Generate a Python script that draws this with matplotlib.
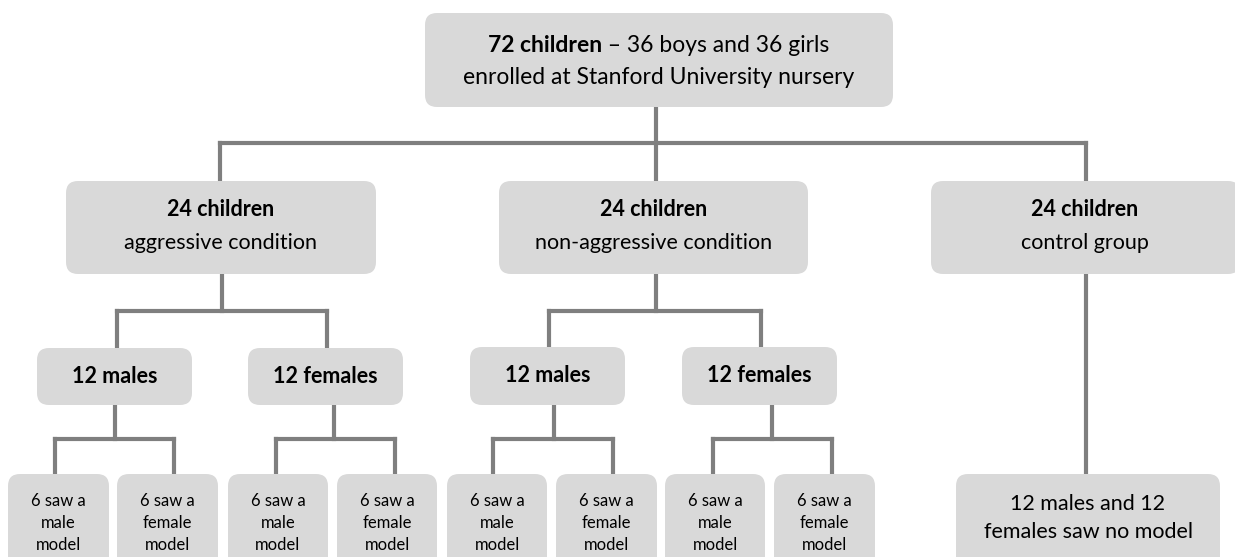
import matplotlib
matplotlib.use("Agg")
import matplotlib.pyplot as plt
from matplotlib.patches import FancyBboxPatch

plt.rcParams['font.family'] = ['Lato', 'DejaVu Sans']

# -----------------------------
# data (labels of the tree)
# -----------------------------
top_bold = "72 children"
top_rest = " \u2013 36 boys and 36 girls"
top_line2 = "enrolled at Stanford University nursery"

group_counts = ["24 children", "24 children", "24 children"]
group_names = ["aggressive condition", "non-aggressive condition", "control group"]

sex_labels = ["12 males", "12 females", "12 males", "12 females"]

leaf_labels = ["6 saw a\nmale\nmodel", "6 saw a\nfemale\nmodel"] * 4
control_leaf = "12 males and 12\nfemales saw no model"

# -----------------------------
# layout (pixels, y down)
# -----------------------------
W, H = 1235, 557
BOX = "#d9d9d9"
LINE = "#7f7f7f"
LW = 3.0

top_box = (425, 893, 13, 107)
group_boxes = [(66, 376, 181, 274), (499, 808, 181, 274), (931, 1240, 181, 274)]
sex_boxes = [(37, 192, 348, 405), (248, 403, 348, 405),
             (470, 625, 347, 405), (682, 837, 347, 405)]
leaf_x = [(8, 109), (117, 218), (228, 328), (337, 437),
          (447, 547), (556, 657), (665, 765), (774, 875)]
leaf_y = (474, 575)
control_box = (956, 1220, 474, 575)

# connectors: (stem x, from y, bar y, child xs, to y)
connectors = [
    (656, 107, 143, [220, 656, 1086], 181),
    (222, 274, 311, [117, 327], 348),
    (656, 274, 311, [549, 761], 347),
    (115, 405, 439, [55, 174], 474),
    (334, 405, 439, [276, 395], 474),
    (554, 405, 439, [493, 613], 473),
    (772, 405, 439, [713, 832], 473),
]

FS_TOP = 16.5
FS_MID = 15.5
FS_LEAF = 12.0

fig = plt.figure(figsize=(W / 100, H / 100), dpi=100)
ax = fig.add_axes([0, 0, 1, 1])
ax.set_xlim(0, W)
ax.set_ylim(H, 0)
ax.axis("off")


def box(b, r=12):
    x0, x1, y0, y1 = b
    p = FancyBboxPatch((x0, y0), x1 - x0, y1 - y0,
                       boxstyle=f"round,pad=0,rounding_size={r}",
                       fc=BOX, ec="none", zorder=2)
    ax.add_patch(p)


# lines first
for sx, y_from, y_bar, xs, y_to in connectors:
    ax.plot([sx, sx], [y_from, y_bar], color=LINE, lw=LW, zorder=1,
            solid_capstyle="projecting")
    ax.plot([min(xs), max(xs)], [y_bar, y_bar], color=LINE, lw=LW, zorder=1,
            solid_capstyle="projecting")
    for cx in xs:
        ax.plot([cx, cx], [y_bar, y_to], color=LINE, lw=LW, zorder=1,
                solid_capstyle="projecting")
ax.plot([1086, 1086], [274, 474], color=LINE, lw=LW, zorder=1)

# top box, first line mixes bold and regular
box(top_box)
cx = (top_box[0] + top_box[1]) / 2
fig.canvas.draw()
r = fig.canvas.get_renderer()
tb = ax.text(0, 45, top_bold, fontsize=FS_TOP, fontweight="bold", va="center", ha="left", zorder=3)
tr = ax.text(0, 45, top_rest, fontsize=FS_TOP, va="center", ha="left", zorder=3)
wb = tb.get_window_extent(renderer=r).width
wr = tr.get_window_extent(renderer=r).width
start = cx - (wb + wr) / 2
tb.set_x(start)
tr.set_x(start + wb)
ax.text(cx, 78, top_line2, fontsize=FS_TOP, va="center", ha="center", zorder=3)

# group boxes
for b, cnt, name in zip(group_boxes, group_counts, group_names):
    box(b)
    x = (b[0] + b[1]) / 2
    if b[1] > W:
        x = 1085
    ax.text(x, 210, cnt, fontsize=FS_MID, fontweight="bold", ha="center", va="center", zorder=3)
    ax.text(x, 243, name, fontsize=FS_MID, ha="center", va="center", zorder=3)

# sex boxes
for b, lab in zip(sex_boxes, sex_labels):
    box(b)
    ax.text((b[0] + b[1]) / 2, (b[2] + b[3]) / 2, lab, fontsize=FS_MID,
            fontweight="bold", ha="center", va="center", zorder=3)

# leaves
for (x0, x1), lab in zip(leaf_x, leaf_labels):
    box((x0, x1, leaf_y[0], leaf_y[1]))
    ax.text((x0 + x1) / 2, 523, lab, fontsize=FS_LEAF, ha="center", va="center",
            linespacing=1.45, zorder=3)

box(control_box)
ax.text((control_box[0] + control_box[1]) / 2, 518, control_leaf, fontsize=FS_MID,
        ha="center", va="center", linespacing=1.55, zorder=3)

fig.savefig("out.png", dpi=100)
